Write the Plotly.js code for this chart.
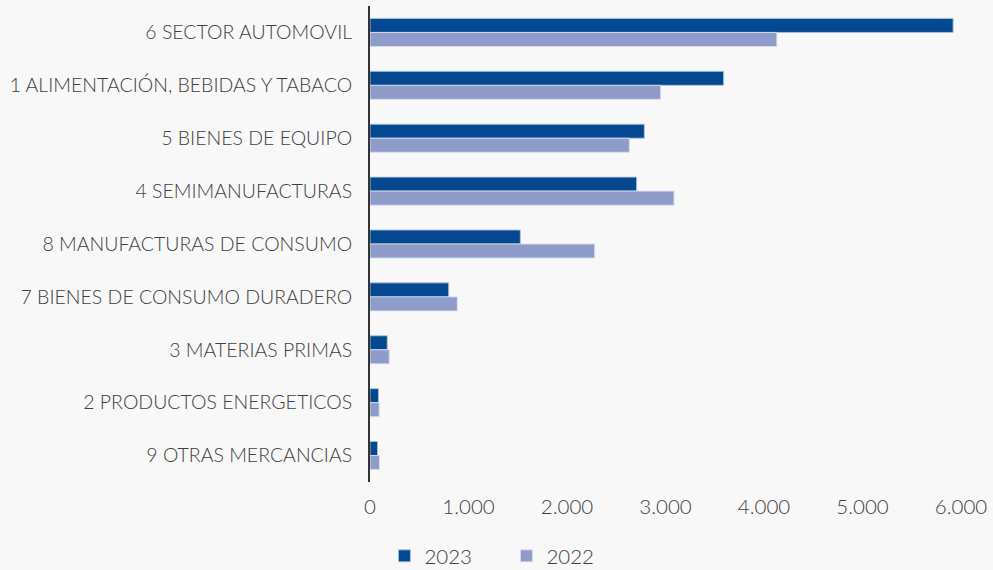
<!DOCTYPE html>
<html>
<head>
<meta charset="utf-8">
<script src="https://cdn.plot.ly/plotly-3.0.1.min.js"></script>
<style>
html,body{margin:0;padding:0;background:#f8f8f8;}
#chart{width:993px;height:570px;}
</style>
</head>
<body>
<div id="chart"></div>
<script>
const categories = [
  "6 SECTOR AUTOMOVIL",
  "1 ALIMENTACIÓN, BEBIDAS Y TABACO",
  "5 BIENES DE EQUIPO",
  "4 SEMIMANUFACTURAS",
  "8 MANUFACTURAS DE CONSUMO",
  "7 BIENES DE CONSUMO DURADERO",
  "3 MATERIAS PRIMAS",
  "2 PRODUCTOS ENERGETICOS",
  "9 OTRAS MERCANCIAS"
];
const values2023 = [5920, 3590, 2785, 2707, 1526, 799, 175, 86, 76];
const values2022 = [4130, 2950, 2633, 3086, 2281, 886, 195, 93, 96];
const seriesNames = ["2023", "2022"];
const xTicks = [0, 1000, 2000, 3000, 4000, 5000, 6000];

const fontFam = "Lato, 'Noto Sans', sans-serif";
const textColor = "#404040";

const traces = [
  {
    type: "bar", orientation: "h", name: seriesNames[0],
    y: categories, x: values2023,
    marker: {color: "#04498f", line: {color: "rgba(170,195,225,0.9)", width: 1}},
    hoverinfo: "x+name"
  },
  {
    type: "bar", orientation: "h", name: seriesNames[1],
    y: categories, x: values2022,
    marker: {color: "#8f9bc8", line: {color: "rgba(215,220,240,0.9)", width: 1}},
    hoverinfo: "x+name"
  }
];

const layout = {
  width: 993, height: 570,
  paper_bgcolor: "#f8f8f8", plot_bgcolor: "#f8f8f8",
  margin: {l: 370, r: 32, t: 6, b: 88},
  barmode: "group", bargap: 0.47, bargroupgap: 0,
  separators: ",.",
  font: {family: fontFam, size: 19, color: textColor, weight: 300},
  xaxis: {
    range: [0, 6000], tickvals: xTicks, tickformat: ",d",
    showgrid: false, zeroline: false, showline: false,
    ticks: "outside", ticklen: 6, tickcolor: "rgba(0,0,0,0)",
    tickfont: {family: fontFam, size: 20.5, color: textColor, weight: 300},
    fixedrange: true
  },
  yaxis: {
    autorange: "reversed", type: "category",
    showgrid: false, zeroline: false,
    showline: true, linecolor: "#333333", linewidth: 2,
    ticks: "outside", ticklen: 12, tickcolor: "rgba(0,0,0,0)",
    tickfont: {family: fontFam, size: 19.5, color: textColor, weight: 300},
    fixedrange: true
  },
  legend: {
    orientation: "h", xref: "container", x: 0.51, xanchor: "center",
    yref: "container", y: 0.0596, yanchor: "top",
    font: {family: fontFam, size: 20.5, color: textColor, weight: 300},
    traceorder: "normal", itemwidth: 30, entrywidth: 77, entrywidthmode: "pixels",
    bgcolor: "rgba(0,0,0,0)"
  },
  showlegend: true
};

Plotly.newPlot("chart", traces, layout, {displayModeBar: false, staticPlot: true});
</script>
</body>
</html>
